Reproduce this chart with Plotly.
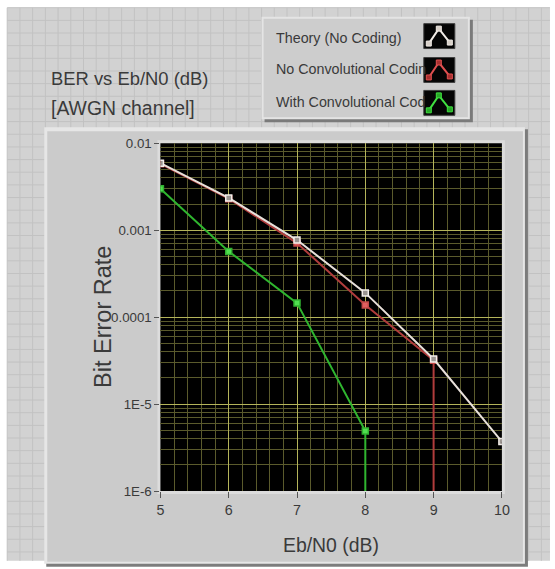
import plotly.graph_objects as go

# ---- data ----
ebn0 = [5, 6, 7, 8, 9, 10]
ber_theory = [5.9e-3, 2.35e-3, 7.7e-4, 1.9e-4, 3.3e-5, 3.7e-6]
ber_uncoded = [5.8e-3, 2.3e-3, 7.1e-4, 1.38e-4, 3.2e-5, 0]
ber_coded = [3.0e-3, 5.7e-4, 1.45e-4, 4.9e-6, 0, 0]
series_names = ["Theory (No Coding)", "No Convolutional Coding", "With Convolutional Coding"]
legend_labels = ["Theory (No Coding)", "No Convolutional Codin", "With Convolutional Cod"]
y_tickvals = [1e-2, 1e-3, 1e-4, 1e-5, 1e-6]
y_ticktext = ["0.01", "0.001", "0.0001", "1E-5", "1E-6"]
x_tickvals = [5, 6, 7, 8, 9, 10]

W, H = 555, 569
# capture compensation (photo of the page is slightly scaled/offset)
S, OX, OY = 0.977, 3.8, 6.3
def PX(x):
    return (x - OX) / S / W
def PY(y):
    return 1 - (y - OY) / S / H
def FS(v):
    return round(v / S, 1)

FONT = "Liberation Sans"
TXT = "#3a3a3a"


def drop_to_zero(xs, ys):
    """LabVIEW draws a zero value on a log scale as a vertical drop."""
    ox, oy = [], []
    for x, y in zip(xs, ys):
        if y > 0:
            ox.append(x)
            oy.append(y)
        else:
            ox.append(ox[-1])
            oy.append(1e-12)
            break
    return ox, oy


fig = go.Figure()

styles = {
    "theory": ("#e8e0da", "#9a9490", "#f4eeea"),
    "uncoded": ("#b03c3c", "#e06060", "#c04848"),
    "coded": ("#2fb52f", "#50e050", "#30b030"),
}
order = [("uncoded", 1, ber_uncoded), ("coded", 2, ber_coded), ("theory", 0, ber_theory)]
for key, idx, ys in order:
    lc, mfill, mline = styles[key]
    xs2, ys2 = drop_to_zero(ebn0, ys)
    fig.add_trace(go.Scatter(
        x=xs2, y=ys2, mode="lines", name=series_names[idx],
        line=dict(color=lc, width=2), showlegend=False, hoverinfo="skip"))
    pos = [(x, v) for x, v in zip(ebn0, ys) if v > 0]
    fig.add_trace(go.Scatter(
        x=[p[0] for p in pos], y=[p[1] for p in pos], mode="markers", name=series_names[idx],
        marker=dict(symbol="square", size=6, color=mfill,
                    line=dict(color=mline, width=1.5)),
        showlegend=False))

shapes = []
def rect(x0, y0, x1, y1, fill, layer="below", line=None):
    shapes.append(dict(type="rect", xref="paper", yref="paper", layer=layer,
                       x0=PX(x0), x1=PX(x1), y0=PY(y1), y1=PY(y0),
                       fillcolor=fill, line=line or dict(width=0)))

# page background with LabVIEW front-panel grid
rect(7, 7, 549, 562, "#d2d2d2")
gx = 7.0
while gx < 549:
    shapes.append(dict(type="line", xref="paper", yref="paper", layer="below",
                       x0=PX(gx), x1=PX(gx), y0=PY(562), y1=PY(7),
                       line=dict(color="#c2c2c2", width=1)))
    gx += 12.7
gy = 7.0
while gy < 562:
    shapes.append(dict(type="line", xref="paper", yref="paper", layer="below",
                       x0=PX(7), x1=PX(549), y0=PY(gy), y1=PY(gy),
                       line=dict(color="#c2c2c2", width=1)))
    gy += 12.7

# graph panel (raised)
rect(46, 129, 527, 568, "#7c7c7c")
rect(44, 127, 524, 565, "#e6e6e6")
rect(47, 131, 522, 563, "#cbcbcb")
# plot-area frame and black plot area
rect(157, 140, 504, 495, "#dcdcdc")
rect(160, 143, 501, 492, "#000000")

# legend box
rect(264, 19, 472, 122, "#7a7a7a")
rect(261, 16, 469, 119, "#e4e4e4")
rect(263, 18, 467, 117, "#cdcdcd")

annotations = []
icon_rows = [(23, 48), (57, 82), (90, 115)]
icon_cols = [("#f0ebe6", "#d8d0c8"), ("#e05050", "#a83030"), ("#40e040", "#28a828")]
text_y = [37, 69, 102]
for (t, b), (lc, mc), lab, ty in zip(icon_rows, icon_cols, legend_labels, text_y):
    annotations.append(dict(xref="paper", yref="paper", x=PX(273), y=PY(ty),
                            xanchor="left", yanchor="middle", showarrow=False,
                            text=lab, font=dict(family=FONT, size=FS(14), color=TXT)))
    rect(423, t, 454, b, "#050505", layer="above", line=dict(color="#404040", width=1))
    pts = [(428, b - 5), (438, t + 5), (449, b - 6)]
    path = "M " + " L ".join(f"{PX(x)},{PY(y)}" for x, y in pts)
    shapes.append(dict(type="path", xref="paper", yref="paper", layer="above",
                       path=path, line=dict(color=lc, width=2)))
    for (x, y) in pts:
        rect(x - 2.5, y - 2.5, x + 2.5, y + 2.5, mc, layer="above",
             line=dict(color=lc, width=1))

# titles
annotations.append(dict(xref="paper", yref="paper", x=PX(49), y=PY(78),
                        xanchor="left", yanchor="middle", showarrow=False,
                        text="BER vs Eb/N0 (dB)", font=dict(family=FONT, size=FS(18), color=TXT)))
annotations.append(dict(xref="paper", yref="paper", x=PX(49), y=PY(108),
                        xanchor="left", yanchor="middle", showarrow=False,
                        text="[AWGN channel]", font=dict(family=FONT, size=FS(19), color=TXT)))
annotations.append(dict(xref="paper", yref="paper", x=PX(102), y=PY(317),
                        xanchor="center", yanchor="middle", showarrow=False, textangle=-90,
                        text="Bit Error Rate", font=dict(family=FONT, size=FS(23), color=TXT)))
annotations.append(dict(xref="paper", yref="paper", x=PX(330), y=PY(546),
                        xanchor="center", yanchor="middle", showarrow=False,
                        text="Eb/N0 (dB)", font=dict(family=FONT, size=FS(19), color=TXT)))

fig.update_layout(
    autosize=True,
    margin=dict(l=0, r=0, t=0, b=0),
    paper_bgcolor="white",
    plot_bgcolor="#000000",
    shapes=shapes,
    annotations=annotations,
    showlegend=False,
    xaxis=dict(
        domain=[PX(160), PX(501)], range=[5, 10],
        tickvals=x_tickvals, ticks="outside", ticklen=6, tickcolor="#555",
        tickfont=dict(family=FONT, size=FS(14), color=TXT),
        showgrid=True, gridcolor="#b4b45a", gridwidth=1,
        minor=dict(dtick=0.2, showgrid=True, gridcolor="#5a5a2c", ticks=""),
        zeroline=False, showline=False, fixedrange=True,
    ),
    yaxis=dict(
        domain=[PY(492), PY(143)], type="log", range=[-6, -2],
        tickvals=y_tickvals, ticktext=y_ticktext,
        ticks="outside", ticklen=5, tickcolor="#555",
        tickfont=dict(family=FONT, size=FS(13), color=TXT),
        showgrid=True, gridcolor="#b4b45a", gridwidth=1,
        minor=dict(dtick="D1", showgrid=True, gridcolor="#5a5a2c", ticks=""),
        zeroline=False, showline=False, fixedrange=True,
    ),
)

post = (
    "document.documentElement.style.margin='0';"
    "document.documentElement.style.overflow='hidden';"
    "document.body.style.margin='0';document.body.style.overflow='hidden';"
    "var gd=document.getElementById('{plot_id}');"
    "gd.style.width=window.innerWidth+'px';gd.style.height=window.innerHeight+'px';"
    "Plotly.Plots.resize(gd);"
)
fig.write_html("out.html", default_width="100vw", default_height="100vh",
               config={"displayModeBar": False, "responsive": True},
               post_script=post)
